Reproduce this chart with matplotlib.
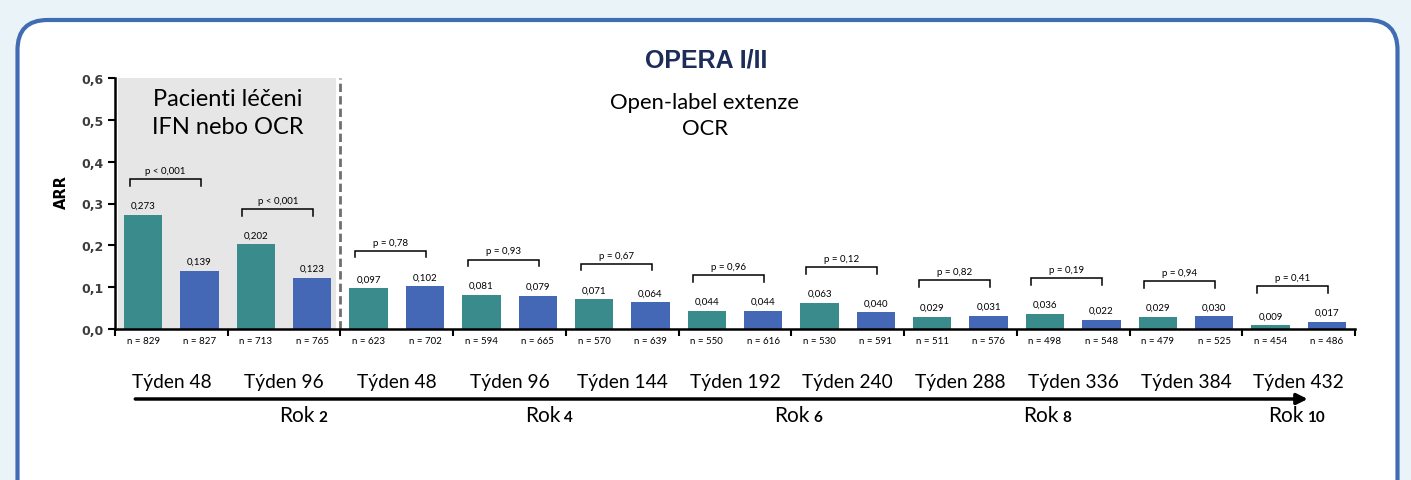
import matplotlib
matplotlib.use("Agg")
import matplotlib.pyplot as plt
import matplotlib.transforms as mtransforms
from matplotlib.patches import FancyBboxPatch
import numpy as np

# data
weeks = ["Týden 48", "Týden 96", "Týden 48", "Týden 96", "Týden 144", "Týden 192",
         "Týden 240", "Týden 288", "Týden 336", "Týden 384", "Týden 432"]
arr_teal = [0.273, 0.202, 0.097, 0.081, 0.071, 0.044, 0.063, 0.029, 0.036, 0.029, 0.009]
arr_blue = [0.139, 0.123, 0.102, 0.079, 0.064, 0.044, 0.040, 0.031, 0.022, 0.030, 0.017]
n_teal = [829, 713, 623, 594, 570, 550, 530, 511, 498, 479, 454]
n_blue = [827, 765, 702, 665, 639, 616, 591, 576, 548, 525, 486]
p_labels = ["p < 0,001", "p < 0,001", "p = 0,78", "p = 0,93", "p = 0,67", "p = 0,96",
            "p = 0,12", "p = 0,82", "p = 0,19", "p = 0,94", "p = 0,41"]
rok_labels = ["2", "4", "6", "8", "10"]

# layout
rok_x = [1.77, 3.95, 6.16, 8.37, 10.54]
TEAL = "#3a8b8b"
BLUE = "#4468b5"
W, H = 1411, 481


def comma(v, fmt="{:.3f}"):
    return fmt.format(v).replace(".", ",")


def fy(px):
    return 1 - px / H


fig = plt.figure(figsize=(W / 100, H / 100), dpi=100)
fig.patch.set_facecolor("#eaf3f7")

# rounded white panel
panel = FancyBboxPatch((0.175, -0.6), 13.8, 4.6 + 0.6,
                       boxstyle="round,pad=0,rounding_size=0.3",
                       transform=fig.dpi_scale_trans, facecolor="white",
                       edgecolor="#3f6cb2", linewidth=3, zorder=-1)
fig.patches.append(panel)

ax = fig.add_axes([115 / W, 1 - 330 / H, 1240 / W, 251 / H])
ax.set_facecolor("none")
ax.set_zorder(2)

x = np.arange(len(weeks))
bw = 0.34
ax.axvspan(0.03, 1.96, ymin=0, ymax=1, color="#e6e6e6", zorder=0, lw=0)
ax.axvline(2.0, color="#6f6f6f", lw=2, ls=(0, (3, 1.5)), zorder=1)

ax.bar(x + 0.25, arr_teal, bw, color=TEAL, zorder=2)
ax.bar(x + 0.75, arr_blue, bw, color=BLUE, zorder=2)

for i in range(len(weeks)):
    ax.text(x[i] + 0.25, arr_teal[i] + 0.012, comma(arr_teal[i]), ha="center",
            va="bottom", fontsize=7, family="Lato")
    ax.text(x[i] + 0.75, arr_blue[i] + 0.012, comma(arr_blue[i]), ha="center",
            va="bottom", fontsize=7, family="Lato")
    top = max(arr_teal[i], arr_blue[i]) + 0.085
    ax.plot([x[i] + 0.13, x[i] + 0.13, x[i] + 0.76, x[i] + 0.76],
            [top - 0.016, top, top, top - 0.016], color="black", lw=1.1,
            zorder=3, solid_joinstyle="miter")
    ax.text(x[i] + 0.445, top + 0.01, p_labels[i], ha="center", va="bottom",
            fontsize=7, family="Lato")

ax.set_xlim(0, len(weeks))
ax.set_ylim(0, 0.6)
ax.set_yticks(np.arange(0, 0.61, 0.1))
ax.set_yticklabels([comma(v, "{:.1f}") for v in np.arange(0, 0.61, 0.1)],
                   fontsize=9, fontweight="bold", color="#3c3c3c",
                   family="DejaVu Sans")
ax.set_xticks(np.arange(0, len(weeks) + 1))
ax.set_xticklabels([])
ax.tick_params(axis="both", direction="out", length=5, width=1.5, color="black")
ax.tick_params(axis="y", pad=3)
for s in ["top", "right"]:
    ax.spines[s].set_visible(False)
for s in ["left", "bottom"]:
    ax.spines[s].set_linewidth(1.8)

fig.text(61 / W, fy(192), "ARR", rotation=90, ha="center", va="center",
         fontsize=10.5, fontweight="bold", family="DejaVu Sans")

blend = mtransforms.blended_transform_factory(ax.transData, fig.transFigure)
for i in range(len(weeks)):
    ax.text(x[i] + 0.25, fy(342), "n = %d" % n_teal[i], transform=blend,
            ha="center", va="center", fontsize=7, family="Lato")
    ax.text(x[i] + 0.75, fy(342), "n = %d" % n_blue[i], transform=blend,
            ha="center", va="center", fontsize=7, family="Lato")
    ax.text(x[i] + 0.5, fy(383), weeks[i], transform=blend, ha="center",
            va="center", fontsize=13.8, family="Lato")

ax.annotate("", xy=(10.58, fy(400)), xytext=(0.18, fy(400)), xycoords=blend,
            textcoords=blend, annotation_clip=False,
            arrowprops=dict(arrowstyle="-|>", lw=2.5, color="black",
                            mutation_scale=16, shrinkA=0, shrinkB=0))

for xr, lab in zip(rok_x, rok_labels):
    ax.text(xr, fy(422), "Rok", transform=blend, ha="right", va="baseline",
            fontsize=15, family="Lato")
    ax.annotate(lab, xy=(xr, fy(422)), xycoords=blend, xytext=(3, 0),
                textcoords="offset points", ha="left", va="baseline",
                fontsize=11, fontweight="bold", family="Lato",
                annotation_clip=False)

fig.text(706 / W, fy(60), "OPERA I/II", ha="center", va="center", fontsize=18,
         fontweight="bold", color="#1b2d58", family="Liberation Sans")
fig.text(705 / W, fy(103), "Open-label extenze", ha="center", va="center",
         fontsize=15.8, family="Lato")
fig.text(705 / W, fy(129), "OCR", ha="center", va="center", fontsize=15.8,
         family="Lato")
fig.text(228 / W, fy(99), "Pacienti léčeni", ha="center", va="center",
         fontsize=17, family="Lato")
fig.text(228 / W, fy(127), "IFN nebo OCR", ha="center", va="center",
         fontsize=17, family="Lato")

fig.savefig("out.png", dpi=100, facecolor=fig.get_facecolor())
